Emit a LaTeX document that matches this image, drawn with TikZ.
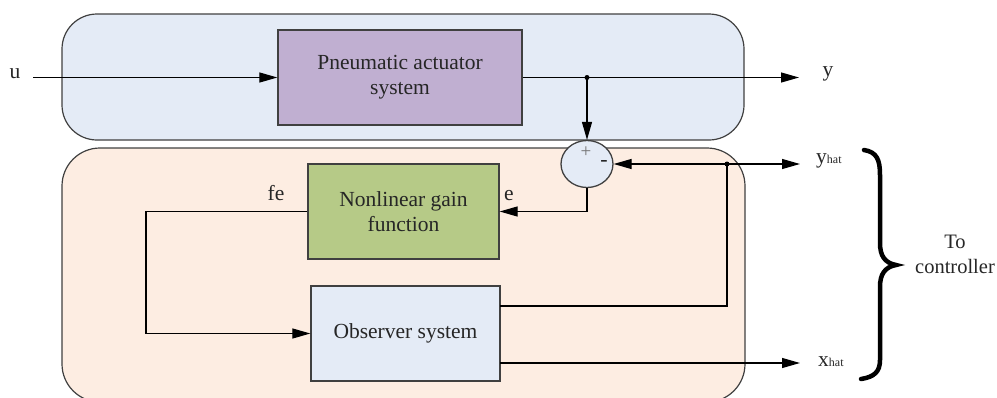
\documentclass[tikz,border=0pt]{standalone}
\usepackage{fontspec}
\setmainfont{Liberation Serif}
\usetikzlibrary{arrows.meta,shapes.geometric}
\definecolor{topfill}{HTML}{E4EBF6}
\definecolor{botfill}{HTML}{FDEDE2}
\definecolor{pafill}{HTML}{C0AFD1}
\definecolor{nlfill}{HTML}{B6CA87}
\definecolor{obsfill}{HTML}{E4EBF6}
\definecolor{edge}{HTML}{404040}
\begin{document}
\begin{tikzpicture}[x=1pt,y=-1pt,
  font=\fontsize{21.5pt}{25pt}\selectfont,
  panel/.style={draw=edge,line width=1.2pt},
  blk/.style={draw=edge,line width=1.3pt,align=center,inner sep=0pt,text=black!85},
  arr/.style={line width=1.2pt,-{Triangle[length=18pt,width=10pt]}},
  ln/.style={line width=1.2pt},
  lab/.style={inner sep=0pt,text=black!85}]
\useasboundingbox (0,0) rectangle (997,397);
% panels
\draw[panel,fill=topfill,rounded corners=35pt] (62,14) rectangle (744,140);
\draw[panel,fill=botfill,rounded corners=38pt] (62,148) rectangle (745,402);
% blocks
\node[blk,fill=pafill,minimum width=244pt,minimum height=95pt] (pa) at (400,77.5) {Pneumatic actuator\\system};
\node[blk,fill=nlfill,minimum width=191pt,minimum height=95pt] (nl) at (403.5,211.5) {Nonlinear gain\\function};
\node[blk,fill=obsfill,minimum width=189pt,minimum height=95pt] (obs) at (405.5,333.5) {Observer system};
\node[ellipse,draw=edge,line width=1.3pt,fill=topfill,minimum width=52pt,minimum height=47pt,inner sep=0pt] (sum) at (587,164) {};
\node[lab,text=black!55,font=\fontsize{19pt}{19pt}\selectfont] (plus) at (586,152) {+};
\node[lab,font=\fontsize{22pt}{22pt}\selectfont] (minus) at (604,163) {-};
% labels
\node[lab] (u) at (15,74) {u};
\node[lab] (y) at (828,74) {y};
\node[lab] (e) at (509,196) {e};
\node[lab] (fe) at (276,193) {fe};
\node[lab,anchor=west] (yhat) at (816,161) {y\raisebox{0.5pt}{\fontsize{12pt}{12pt}\selectfont hat}};
\node[lab,anchor=west] (xhat) at (818,362) {x\raisebox{0.5pt}{\fontsize{12pt}{12pt}\selectfont hat}};
\node[lab,align=center,font=\fontsize{20.5pt}{25pt}\selectfont] (ctrl) at (955,254) {To\\controller};
% coordinates
\coordinate (uin) at (33,77.5);
\coordinate (yend) at (799,77.5);
\coordinate (j1) at (587,77.5);
\coordinate (fec) at (146,211.5);
\coordinate (j2) at (727,164);
\coordinate (yhend) at (800,164);
\coordinate (obsu) at (500,306);
\coordinate (obsl) at (500,363);
\coordinate (xhend) at (800,363);
% connectors
\draw[arr] (uin) -- (pa.west);
\draw[arr] (pa.east) -- (yend);
\fill (j1) circle (2.5pt);
\draw[arr] (j1) -- (sum.north);
\draw[arr] (sum.south) |- (nl.east);
\draw[arr] (nl.west) -- (fec) |- (obs.west);
\draw[ln] (obsu) -| (j2);
\fill (j2) circle (2.5pt);
\draw[arr] (j2) -- (sum.east);
\draw[arr] (j2) -- (yhend);
\draw[arr] (obsl) -- (xhend);
% brace
\draw[line width=4.5pt,line cap=round] (864,150) .. controls (877,152) and (880,160) .. (880,175) -- (880,243) .. controls (880,256) and (885,263) .. (896,265) .. controls (885,267) and (880,274) .. (880,287) -- (880,360) .. controls (880,372) and (874,377) .. (861,379);
\end{tikzpicture}
\end{document}
